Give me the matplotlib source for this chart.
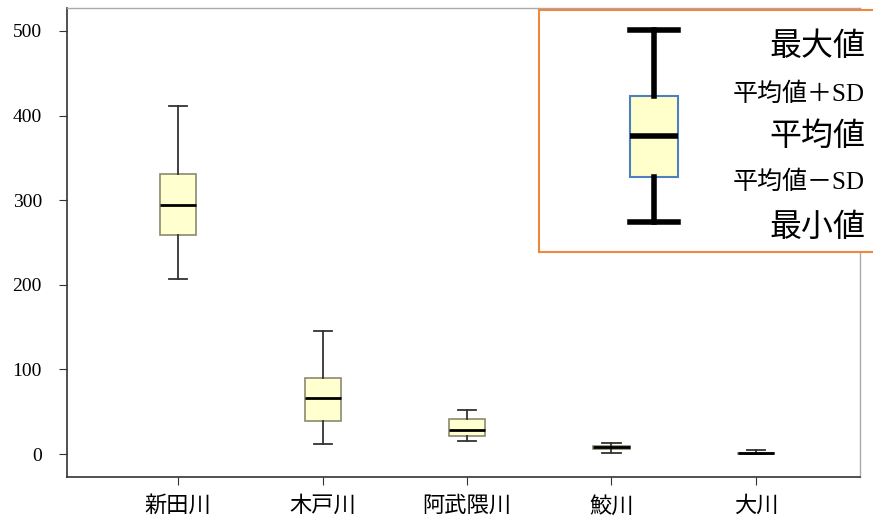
import matplotlib
matplotlib.use("Agg")
import matplotlib.pyplot as plt

plt.rcParams['font.family'] = ['Liberation Serif', 'Noto Sans CJK JP', 'DejaVu Sans']

# 河川ごとの値（最大値, 平均値+SD, 平均値, 平均値-SD, 最小値）
rivers = ['新田川', '木戸川', '阿武隈川', '鮫川', '大川']
maxima = [411, 146, 52, 13, 4.5]
mean_plus_sd = [331, 90, 41, 10, 1.5]
means = [294, 66, 29, 8, 1]
mean_minus_sd = [259, 39, 21, 6, 0.5]
minima = [207, 12, 15, 1, 0]

# 凡例用の見本（ピクセル相当の単位）
legend_labels = ['最大値', '平均値＋SD', '平均値', '平均値－SD', '最小値']
legend_values = [192, 126, 86, 45, 0]
legend_sizes = [23, 18, 23, 18, 23]

fig = plt.figure(figsize=(8.73, 5.24), dpi=100)
ax = fig.add_axes([0.0767, 0.0897, 0.9083, 0.895])

stats = []
for i in range(len(rivers)):
    stats.append(dict(whishi=maxima[i], q3=mean_plus_sd[i], med=means[i],
                      q1=mean_minus_sd[i], whislo=minima[i], label=rivers[i]))

ax.bxp(stats, positions=range(1, len(rivers) + 1), widths=0.25, capwidths=0.125,
       showfliers=False, patch_artist=True,
       boxprops=dict(facecolor='#FFFFD0', edgecolor='#8A8A70', linewidth=1.2),
       medianprops=dict(color='black', linewidth=2),
       whiskerprops=dict(color='#333333', linewidth=1.3),
       capprops=dict(color='#333333', linewidth=1.3))

ax.set_xlim(0.23, 5.72)
ax.set_ylim(-27, 527)
ax.set_yticks([0, 100, 200, 300, 400, 500])
ax.tick_params(axis='y', labelsize=14, length=6, pad=12, color='#333333')
ax.tick_params(axis='x', labelsize=16, length=6, pad=8, color='#333333')
for s in ['left', 'bottom']:
    ax.spines[s].set_color('#333333')
    ax.spines[s].set_linewidth(1.2)
for s in ['top', 'right']:
    ax.spines[s].set_color('#AAAAAA')
    ax.spines[s].set_linewidth(1.0)

# 凡例（枠付きの小さな軸に見本の箱ひげを描く）
lax = fig.add_axes([539 / 873, 272 / 524, 360 / 873, 242 / 524])
lax.set_ylim(-30, 212)
lax.set_yticks([])
for s in lax.spines.values():
    s.set_color('#F0883A')
    s.set_linewidth(1.5)
lax.bxp([dict(whishi=legend_values[0], q3=legend_values[1], med=legend_values[2],
              q1=legend_values[3], whislo=legend_values[4])],
        positions=[115], widths=48, capwidths=48, showfliers=False, patch_artist=True,
        boxprops=dict(facecolor='#FFFFCC', edgecolor='#4F7FC0', linewidth=1.5),
        medianprops=dict(color='black', linewidth=4),
        whiskerprops=dict(color='black', linewidth=4),
        capprops=dict(color='black', linewidth=4))
lax.set_xticks([])
lax.set_xlim(0, 360)
text_y = [175, 128, 85, 40, -6]
for lbl, ty, fs in zip(legend_labels, text_y, legend_sizes):
    lax.text(326, ty, lbl, ha='right', va='center', fontsize=fs)

fig.savefig('out.png', dpi=100)
